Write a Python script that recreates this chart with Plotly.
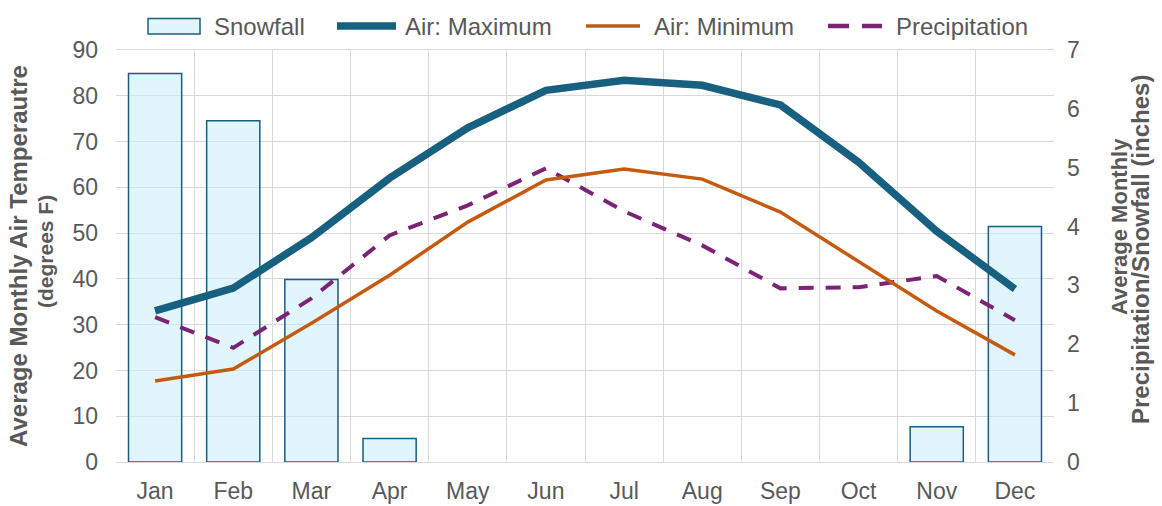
import plotly.graph_objects as go

# Monthly climate normals
months = ["Jan", "Feb", "Mar", "Apr", "May", "Jun",
          "Jul", "Aug", "Sep", "Oct", "Nov", "Dec"]
snowfall_in = [6.6, 5.8, 3.1, 0.4, 0, 0, 0, 0, 0, 0, 0.6, 4.0]
air_max_f = [33, 38, 49, 62, 73, 81.2, 83.4, 82.3, 78, 65.5, 50.4, 37.8]
air_min_f = [17.7, 20.3, 30.3, 40.8, 52.4, 61.6, 64, 61.8, 54.6, 43.9, 33, 23.4]
precip_in = [2.46, 1.94, 2.78, 3.85, 4.36, 4.99, 4.26, 3.68, 2.95, 2.97, 3.16, 2.41]

left_ticks = list(range(0, 91, 10))
right_ticks = list(range(0, 8))

FONT = "Liberation Sans, Arial, sans-serif"
GRAY = "#595959"
GRID = "#D9D9D9"
SNOW_FILL = "rgba(200,236,250,0.55)"
SNOW_EDGE = "#1B5E7E"
MAX_C = "#17607F"
MIN_C = "#C55A11"
PRE_C = "#7B2374"

# plot-area geometry in pixels (used to place the legend and titles)
W, H = 1162, 506
L, R, T, B = 116, 108, 50, 44
PW, PH = W - L - R, H - T - B


def px_x(x):
    return (x - L) / PW


def px_y(y):
    return (H - B - y) / PH


fig = go.Figure()

# Inches (right scale) live on the primary y axis so the temperature
# overlay is drawn above the snowfall bars.
fig.add_trace(go.Bar(
    x=months, y=snowfall_in, name="Snowfall", yaxis="y", showlegend=False,
    marker=dict(color=SNOW_FILL,
                line=dict(color=SNOW_EDGE,
                          width=[1.5 if v > 0 else 0 for v in snowfall_in])),
))
fig.add_trace(go.Scatter(
    x=months, y=air_max_f, name="Air: Maximum", yaxis="y2", mode="lines",
    showlegend=False, line=dict(color=MAX_C, width=7.5),
))
fig.add_trace(go.Scatter(
    x=months, y=air_min_f, name="Air: Minimum", yaxis="y2", mode="lines",
    showlegend=False, line=dict(color=MIN_C, width=3.5),
))
fig.add_trace(go.Scatter(
    x=months, y=precip_in, name="Precipitation", yaxis="y", mode="lines",
    showlegend=False, line=dict(color=PRE_C, width=4, dash="15px,12px"),
))

# Legend row across the top
LEG_Y = 26
shapes = [
    dict(type="rect", xref="paper", yref="paper",
         x0=px_x(148), x1=px_x(200), y0=px_y(34), y1=px_y(18.5),
         fillcolor=SNOW_FILL, line=dict(color=SNOW_EDGE, width=1.5)),
    dict(type="line", xref="paper", yref="paper",
         x0=px_x(337), x1=px_x(396), y0=px_y(LEG_Y), y1=px_y(LEG_Y),
         line=dict(color=MAX_C, width=7.5)),
    dict(type="line", xref="paper", yref="paper",
         x0=px_x(586), x1=px_x(640), y0=px_y(LEG_Y), y1=px_y(LEG_Y),
         line=dict(color=MIN_C, width=3.5)),
    dict(type="line", xref="paper", yref="paper",
         x0=px_x(828), x1=px_x(882), y0=px_y(LEG_Y), y1=px_y(LEG_Y),
         line=dict(color=PRE_C, width=4.5, dash="21px,13px")),
]
legend_text = [("Snowfall", 212), ("Air: Maximum", 403),
               ("Air: Minimum", 652), ("Precipitation", 894)]
annotations = [
    dict(text=t, x=px_x(x), y=px_y(LEG_Y), xref="paper", yref="paper",
         xanchor="left", yanchor="middle", showarrow=False,
         font=dict(size=24, color=GRAY, family=FONT))
    for t, x in legend_text
]

# Axis titles, one annotation per line
titles = [
    ("Average Monthly Air Temperautre", 18, 256, 24),
    ("(degrees F)", 45, 252, 21),
    ("Average Monthly", 1119, 227, 22),
    ("Precipitation/Snowfall (inches)", 1140, 250, 24),
]
for t, x, y, s in titles:
    annotations.append(dict(
        text=f"<b>{t}</b>", x=px_x(x), y=px_y(y), xref="paper", yref="paper",
        xanchor="center", yanchor="middle", textangle=-90, showarrow=False,
        font=dict(size=s, color=GRAY, family=FONT)))

fig.update_layout(
    width=W, height=H,
    margin=dict(l=L, r=R, t=T, b=B, autoexpand=False),
    paper_bgcolor="white", plot_bgcolor="white",
    font=dict(family=FONT, size=23, color=GRAY),
    bargap=0.32,
    shapes=shapes,
    annotations=annotations,
    xaxis=dict(
        type="category", tickson="boundaries", showgrid=True, gridcolor=GRID,
        gridwidth=1, ticks="", showline=True, linecolor=GRID, mirror=True,
        tickfont=dict(size=23, color=GRAY), ticklabelstandoff=8,
        automargin=False,
    ),
    yaxis=dict(
        side="right", range=[0, 7], tickvals=right_ticks, showgrid=False,
        zeroline=False, ticks="", tickfont=dict(size=23, color=GRAY),
        ticklabelstandoff=12, automargin=False,
    ),
    yaxis2=dict(
        side="left", overlaying="y", range=[0, 90], tickvals=left_ticks,
        showgrid=True, gridcolor=GRID, gridwidth=1, zeroline=False, ticks="",
        tickfont=dict(size=23, color=GRAY), ticklabelstandoff=17,
        automargin=False,
    ),
)

fig.write_html("out.html")
